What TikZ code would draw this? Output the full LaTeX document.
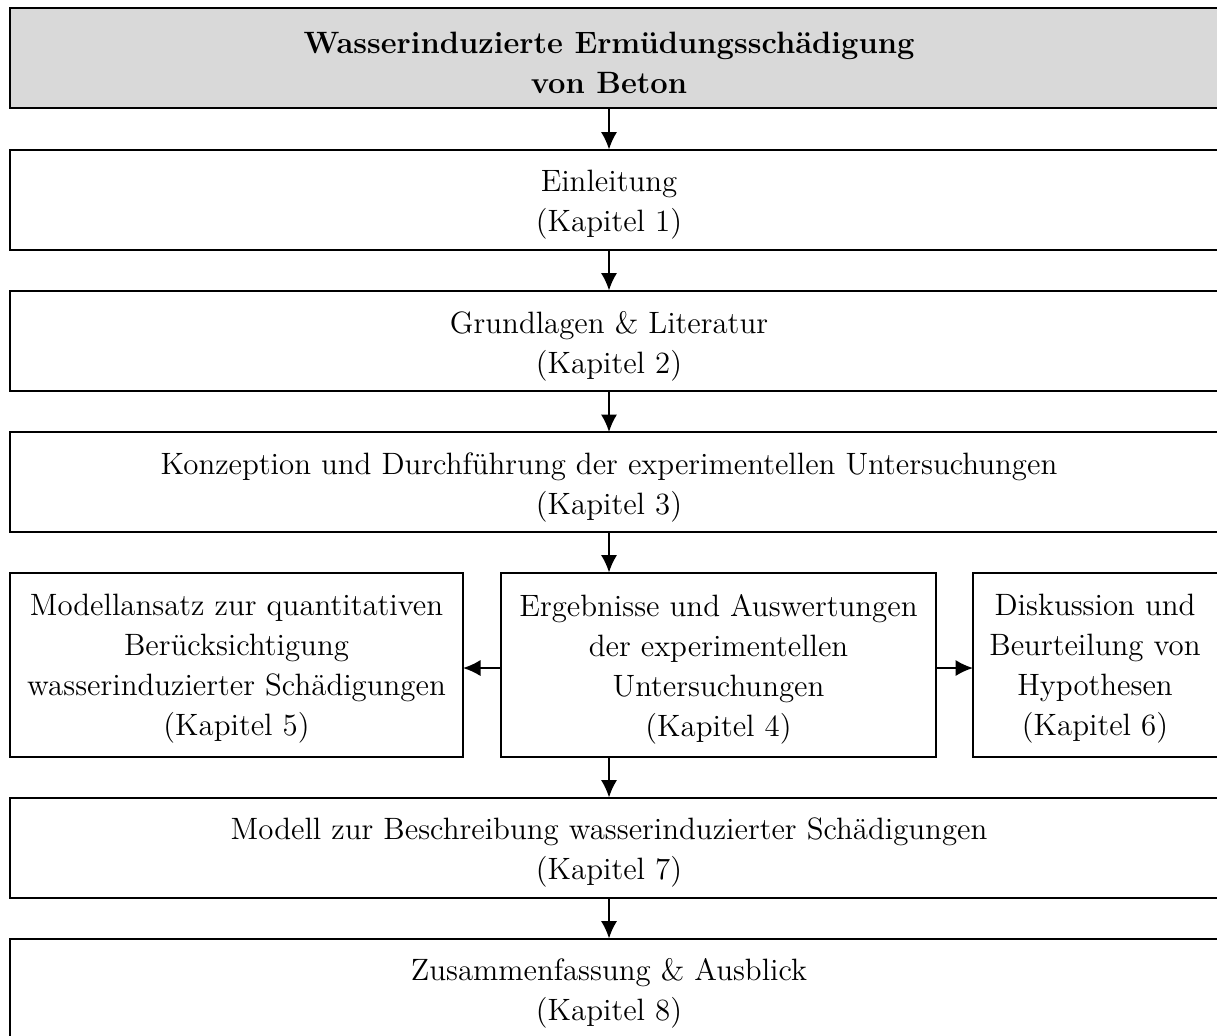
\documentclass[tikz,border=0pt]{standalone}
\usepackage{fontspec}
\usetikzlibrary{arrows.meta}
\definecolor{titlegray}{RGB}{217,217,217}
\begin{document}
\begin{tikzpicture}[x=0.4pt,y=-0.4pt,
  frame/.style={draw=black, line width=0.8pt, inner sep=0pt, outer sep=0pt, anchor=north west},
  txt/.style={align=center, font=\fontsize{12.35}{16}\selectfont, inner sep=0pt},
  arr/.style={line width=0.8pt, -{Latex[length=7pt,width=6.5pt]}}]
\useasboundingbox (0,0) rectangle (1217,1035);
% boxes
\node[frame, fill=titlegray, minimum width=496pt, minimum height=40pt] (b0) at (9.5,7.5) {};
\node[frame, minimum width=496pt, minimum height=40pt] (b1) at (9.5,149.5) {};
\node[frame, minimum width=496pt, minimum height=40pt] (b2) at (9.5,290.5) {};
\node[frame, minimum width=496pt, minimum height=40pt] (b3) at (9.5,432) {};
\node[frame, minimum width=181.4pt, minimum height=73.6pt] (b5) at (9.5,572.5) {};
\node[frame, minimum width=174.2pt, minimum height=73.6pt] (b4) at (500.5,572.5) {};
\node[frame, minimum width=110pt, minimum height=73.6pt] (b6) at (973,572.5) {};
\node[frame, minimum width=496pt, minimum height=40pt] (b7) at (9.5,797.5) {};
\node[frame, minimum width=496pt, minimum height=40pt] (b8) at (9.5,938.5) {};
% texts
\node[txt, font=\fontsize{12.35}{16}\selectfont\bfseries] (t0) at (609,63) {Wasserinduzierte Ermüdungsschädigung\\von Beton};
\node[txt] (t1) at (609,205) {Einleitung\\(Kapitel 1)};
\node[txt] (t2) at (609,346) {Grundlagen \& Literatur\\(Kapitel 2)};
\node[txt] (t3) at (609,487.5) {Konzeption und Durchführung der experimentellen Untersuchungen\\(Kapitel 3)};
\node[txt] (t5) at (236.5,669) {Modellansatz zur quantitativen\\Berücksichtigung\\wasserinduzierter Schädigungen\\(Kapitel 5)};
\node[txt] (t4) at (718.5,669) {Ergebnisse und Auswertungen\\der experimentellen\\Untersuchungen\\(Kapitel 4)};
\node[txt] (t6) at (1095,669) {Diskussion und\\Beurteilung von\\Hypothesen\\(Kapitel 6)};
\node[txt] (t7) at (609,852) {Modell zur Beschreibung wasserinduzierter Schädigungen\\(Kapitel 7)};
\node[txt] (t8) at (609,993) {Zusammenfassung \& Ausblick\\(Kapitel 8)};
% arrows
\draw[arr] (b0.south -| t0) -- (b1.north -| t0);
\draw[arr] (b1.south -| t0) -- (b2.north -| t0);
\draw[arr] (b2.south -| t0) -- (b3.north -| t0);
\draw[arr] (b3.south -| t0) -- (b4.north -| t0);
\draw[arr] (b4.south -| t0) -- (b7.north -| t0);
\draw[arr] (b7.south -| t0) -- (b8.north -| t0);
\draw[arr] ([yshift=-1.4pt]b4.west) -- ([yshift=-1.4pt]b5.east);
\draw[arr] ([yshift=-1.4pt]b4.east) -- ([yshift=-1.4pt]b6.west);
\end{tikzpicture}
\end{document}
